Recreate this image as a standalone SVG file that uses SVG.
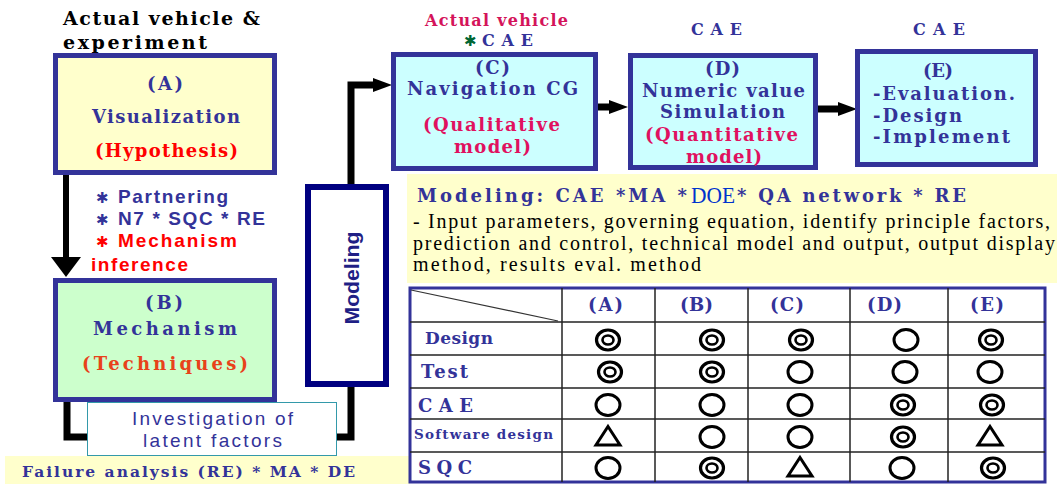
<svg xmlns="http://www.w3.org/2000/svg" xmlns:xlink="http://www.w3.org/1999/xlink" width="1057" height="484" viewBox="0 0 1057 484">
<style>
.sb{font-family:"DejaVu Serif","Liberation Serif",serif;font-weight:bold}
.sr{font-family:"Liberation Serif","Times New Roman",serif;font-weight:normal}
.ss{font-family:"Liberation Sans",Arial,sans-serif;font-weight:bold}
.sn{font-family:"Liberation Sans",Arial,sans-serif;font-weight:normal}
.ast{font-family:"DejaVu Sans",sans-serif;font-size:15px}
.blue{fill:#333399}
.red{fill:#FF0000}
.pink{fill:#E0115F}
.box{stroke:#333399;stroke-width:5}
.ln{fill:none;stroke:#000;stroke-linejoin:miter;stroke-linecap:butt}
.grid{stroke:#222;stroke-width:1.5}
.sym{fill:none;stroke:#000}
.bt{font-size:18px}
</style>
<defs>
<marker id="ahL" markerUnits="userSpaceOnUse" viewBox="0 0 20 30" markerWidth="20" markerHeight="30" refX="0" refY="15" orient="auto"><path d="M0,0 L20,15 L0,30 Z" fill="#000"/></marker>
<marker id="ahM" markerUnits="userSpaceOnUse" viewBox="0 0 15 20" markerWidth="15" markerHeight="20" refX="0" refY="10" orient="auto"><path d="M0,0 L15,10 L0,20 Z" fill="#000"/></marker>
<marker id="ahS" markerUnits="userSpaceOnUse" viewBox="0 0 19 14" markerWidth="19" markerHeight="14" refX="0" refY="7" orient="auto"><path d="M0,0 L19,7 L0,14 Z" fill="#000"/></marker>
<g id="dbl"><ellipse rx="11.5" ry="10" class="sym" stroke-width="3.2"/><ellipse rx="5.5" ry="4.5" class="sym" stroke-width="2.6"/></g>
<g id="sgl"><ellipse rx="12" ry="10.5" class="sym" stroke-width="3"/></g>
<g id="tri"><path d="M0,-9.5 L12,9 L-12,9 Z" class="sym" stroke-width="3"/></g>
</defs>

<rect width="1057" height="484" fill="#FFFFFF"/>
<rect x="5" y="456" width="405" height="28" fill="#FFFFCC"/>
<rect x="407" y="174" width="650" height="109" fill="#FFFFCC"/>

<g id="connectors">
<path class="ln" d="M66,175 V257" stroke-width="6" marker-end="url(#ahL)"/>
<path class="ln" d="M67,402 V437 H88" stroke-width="7"/>
<path class="ln" d="M337,437 H351 V355" stroke-width="7" marker-end="url(#ahM)"/>
<path class="ln" d="M351,184 V85 H373" stroke-width="7" marker-end="url(#ahS)"/>
<path class="ln" d="M598,107 H609" stroke-width="7" marker-end="url(#ahS)"/>
<path class="ln" d="M818,109 H838" stroke-width="7" marker-end="url(#ahS)"/>
</g>

<g id="label-experiment">
<text class="sb" font-size="19" x="63" y="25" textLength="197" lengthAdjust="spacing" fill="#000">Actual vehicle &amp;</text>
<text class="sb" font-size="19" x="63" y="49" textLength="144" lengthAdjust="spacing" fill="#000">experiment</text>
</g>

<g id="nodeA">
<rect x="55.5" y="55.5" width="219" height="117" fill="#FFFFCC" class="box"/>
<text class="sb bt blue" x="147" y="90" textLength="36" lengthAdjust="spacing">(A)</text>
<text class="sb bt blue" x="92" y="123" textLength="148" lengthAdjust="spacing">Visualization</text>
<text class="sb bt red" x="95" y="157" textLength="143" lengthAdjust="spacing">(Hypothesis)</text>
</g>

<g id="notes-AB">
<text class="ast blue" x="96" y="203">✱</text>
<text class="ss blue" font-size="19" x="118" y="203" textLength="110" lengthAdjust="spacing">Partnering</text>
<text class="ast blue" x="96" y="225">✱</text>
<text class="ss blue" font-size="19" x="118" y="225" textLength="147" lengthAdjust="spacing">N7 * SQC * RE</text>
<text class="ast red" x="96" y="247">✱</text>
<text class="ss red" font-size="19" x="118" y="247" textLength="119" lengthAdjust="spacing">Mechanism</text>
<text class="ss red" font-size="19" x="91" y="271" textLength="97" lengthAdjust="spacing">inference</text>
</g>

<g id="nodeB">
<rect x="55.5" y="280.5" width="219" height="119" fill="#CCFFCC" class="box"/>
<text class="sb bt blue" x="145" y="309" textLength="38" lengthAdjust="spacing">(B)</text>
<text class="sb bt blue" x="93" y="335" textLength="144" lengthAdjust="spacing">Mechanism</text>
<text class="sb bt" fill="#E8421A" x="82" y="370" textLength="166" lengthAdjust="spacing">(Techniques)</text>
</g>

<g id="investigation">
<rect x="87.5" y="402.5" width="249" height="53" fill="#FFFFFF" stroke="#3399AA" stroke-width="1"/>
<text class="sn blue" font-size="19" x="132" y="425" textLength="161" lengthAdjust="spacing">Investigation of</text>
<text class="sn blue" font-size="19" x="143" y="447" textLength="139" lengthAdjust="spacing">latent factors</text>
</g>

<g id="failure-analysis">
<text class="sb blue" font-size="15.5" x="22" y="477" textLength="333" lengthAdjust="spacing">Failure analysis (RE) * MA * DE</text>
</g>

<g id="modeling">
<rect x="308" y="187" width="78" height="197" fill="#FFFFFF" stroke="#000080" stroke-width="6"/>
<text class="ss" fill="#1F1F85" font-size="21" text-anchor="middle" transform="translate(359,278) rotate(-90)" textLength="93" lengthAdjust="spacingAndGlyphs">Modeling</text>
</g>

<g id="nodeC">
<text class="sb" fill="#D4145A" font-size="16" x="425" y="26" textLength="143" lengthAdjust="spacing">Actual vehicle</text>
<text class="ast" fill="#006633" x="464" y="46">✱</text>
<text class="sb blue" font-size="16" x="482" y="46" textLength="51" lengthAdjust="spacing">CAE</text>
<rect x="393.5" y="54.5" width="202" height="114" fill="#CCFFFF" class="box"/>
<text class="sb bt blue" x="475" y="74" textLength="35" lengthAdjust="spacing">(C)</text>
<text class="sb bt blue" x="407" y="95" textLength="171" lengthAdjust="spacing">Navigation CG</text>
<text class="sb bt pink" x="423" y="131" textLength="137" lengthAdjust="spacing">(Qualitative</text>
<text class="sb bt pink" x="454" y="153" textLength="77" lengthAdjust="spacing">model)</text>
</g>

<g id="nodeD">
<text class="sb blue" font-size="16" x="691" y="35" textLength="51" lengthAdjust="spacing">CAE</text>
<rect x="630.5" y="55.5" width="185" height="112" fill="#CCFFFF" class="box"/>
<text class="sb bt blue" x="705" y="75" textLength="35" lengthAdjust="spacing">(D)</text>
<text class="sb bt blue" x="642" y="97" textLength="163" lengthAdjust="spacing">Numeric value</text>
<text class="sb bt blue" x="660" y="118" textLength="125" lengthAdjust="spacing">Simulation</text>
<text class="sb bt pink" x="645" y="141" textLength="153" lengthAdjust="spacing">(Quantitative</text>
<text class="sb bt pink" x="686" y="163" textLength="76" lengthAdjust="spacing">model)</text>
</g>

<g id="nodeE">
<text class="sb blue" font-size="16" x="913" y="35" textLength="52" lengthAdjust="spacing">CAE</text>
<rect x="857.5" y="51.5" width="178" height="113" fill="#CCFFFF" class="box"/>
<text class="sb bt blue" x="923" y="77" textLength="30" lengthAdjust="spacing">(E)</text>
<text class="sb bt blue" x="873" y="100" textLength="142" lengthAdjust="spacing">-Evaluation.</text>
<text class="sb bt blue" x="873" y="122" textLength="89" lengthAdjust="spacing">-Design</text>
<text class="sb bt blue" x="873" y="143" textLength="137" lengthAdjust="spacing">-Implement</text>
</g>

<g id="modeling-note">
<text class="sb blue" font-size="18" x="417" y="202" textLength="270" lengthAdjust="spacing">Modeling: CAE *MA *</text>
<text class="sr" fill="#0033CC" font-size="24" x="691" y="203" textLength="44" lengthAdjust="spacingAndGlyphs">DOE</text>
<text class="sb blue" font-size="18" x="737" y="202" textLength="229" lengthAdjust="spacing">* QA network * RE</text>
<text class="sr" font-size="20" fill="#000" x="413" y="228" textLength="637" lengthAdjust="spacing">- Input parameters, governing equation, identify principle factors,</text>
<text class="sr" font-size="20" fill="#000" x="413" y="250" textLength="642" lengthAdjust="spacing">prediction and control, technical model and output, output display</text>
<text class="sr" font-size="20" fill="#000" x="413" y="271" textLength="288" lengthAdjust="spacing">method, results eval. method</text>
</g>

<g id="matrix">
<rect x="410" y="288" width="635" height="194" fill="#FFFFFF" stroke="#333399" stroke-width="3"/>
<line class="grid" x1="410" y1="322" x2="1045" y2="322"/>
<line class="grid" x1="410" y1="355" x2="1045" y2="355"/>
<line class="grid" x1="410" y1="388" x2="1045" y2="388"/>
<line class="grid" x1="410" y1="419" x2="1045" y2="419"/>
<line class="grid" x1="410" y1="452" x2="1045" y2="452"/>
<line class="grid" x1="562" y1="288" x2="562" y2="482"/>
<line class="grid" x1="655" y1="288" x2="655" y2="482"/>
<line class="grid" x1="748" y1="288" x2="748" y2="482"/>
<line class="grid" x1="850" y1="288" x2="850" y2="482"/>
<line class="grid" x1="948" y1="288" x2="948" y2="482"/>
<line x1="411" y1="290" x2="558" y2="321" stroke="#333" stroke-width="1.2"/>
<text class="sb blue" font-size="18" x="588" y="311" textLength="35" lengthAdjust="spacing">(A)</text>
<text class="sb blue" font-size="18" x="680" y="311" textLength="33" lengthAdjust="spacing">(B)</text>
<text class="sb blue" font-size="18" x="770" y="311" textLength="34" lengthAdjust="spacing">(C)</text>
<text class="sb blue" font-size="18" x="867" y="311" textLength="35" lengthAdjust="spacing">(D)</text>
<text class="sb blue" font-size="18" x="970" y="311" textLength="34" lengthAdjust="spacing">(E)</text>
<text class="sb blue" font-size="17" x="425" y="344" textLength="68" lengthAdjust="spacing">Design</text>
<text class="sb blue" font-size="18" x="421" y="378" textLength="47" lengthAdjust="spacing">Test</text>
<text class="sb blue" font-size="18" x="418" y="412" textLength="55" lengthAdjust="spacing">CAE</text>
<text class="sb blue" font-size="13.5" x="414" y="439" textLength="139" lengthAdjust="spacing">Software design</text>
<text class="sb blue" font-size="18" x="418" y="474" textLength="54" lengthAdjust="spacing">SQC</text>
<use xlink:href="#dbl" x="608" y="340"/>
<use xlink:href="#dbl" x="712" y="340"/>
<use xlink:href="#dbl" x="801" y="340"/>
<use xlink:href="#sgl" x="906" y="340"/>
<use xlink:href="#dbl" x="991" y="340"/>
<use xlink:href="#dbl" x="610" y="372"/>
<use xlink:href="#dbl" x="712" y="372"/>
<use xlink:href="#sgl" x="800" y="372"/>
<use xlink:href="#sgl" x="905" y="372"/>
<use xlink:href="#sgl" x="990" y="372"/>
<use xlink:href="#sgl" x="608" y="405"/>
<use xlink:href="#sgl" x="712" y="405"/>
<use xlink:href="#sgl" x="800" y="405"/>
<use xlink:href="#dbl" x="903" y="405"/>
<use xlink:href="#dbl" x="992" y="405"/>
<use xlink:href="#tri" x="608" y="436"/>
<use xlink:href="#sgl" x="712" y="437"/>
<use xlink:href="#sgl" x="800" y="437"/>
<use xlink:href="#dbl" x="903" y="437"/>
<use xlink:href="#tri" x="990" y="436"/>
<use xlink:href="#sgl" x="608" y="468"/>
<use xlink:href="#dbl" x="712" y="468"/>
<use xlink:href="#tri" x="800" y="467"/>
<use xlink:href="#sgl" x="902" y="468"/>
<use xlink:href="#dbl" x="993" y="468"/>
</g>
</svg>
